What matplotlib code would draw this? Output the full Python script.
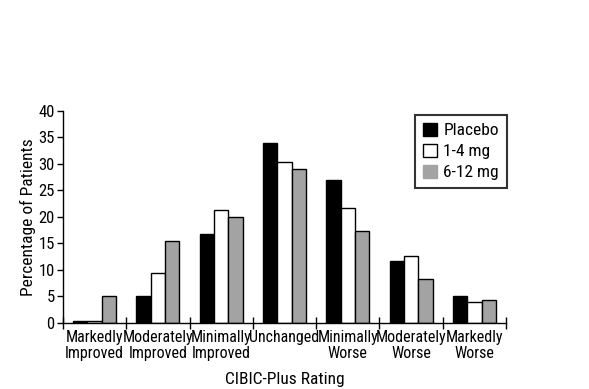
import numpy as np
import matplotlib
matplotlib.use('Agg')
import matplotlib.pyplot as plt
from matplotlib.patches import Patch
from matplotlib import font_manager

# pick a narrow sans if one is around
narrow = None
for fam in ['Liberation Sans Narrow', 'DejaVu Sans Condensed', 'Roboto Condensed', 'Arial Narrow']:
    try:
        font_manager.findfont(fam, fallback_to_default=False)
        narrow = fam
        break
    except Exception:
        pass
if narrow is None:
    cond = [f.name for f in font_manager.fontManager.ttflist
            if f.stretch in ('condensed', 'semi-condensed', 'extra-condensed', 550, 600, 650)]
    narrow = cond[0] if cond else 'Liberation Sans'
plt.rcParams['font.family'] = [narrow, 'DejaVu Sans']
sc = 1.0 if narrow != 'Liberation Sans' else 0.85

categories = ['Markedly\nImproved', 'Moderately\nImproved', 'Minimally\nImproved',
              'Unchanged', 'Minimally\nWorse', 'Moderately\nWorse', 'Markedly\nWorse']
placebo = [0.4, 5.0, 16.7, 34.0, 26.9, 11.6, 5.0]
low_dose = [0.4, 9.5, 21.2, 30.3, 21.7, 12.6, 4.0]
high_dose = [5.1, 15.4, 20.0, 29.0, 17.4, 8.3, 4.4]
series_names = ['Placebo', '1-4 mg', '6-12 mg']

fig = plt.figure(figsize=(5.89, 3.89), dpi=100)
ax = fig.add_axes([63/589, 1-323/389, (506-63)/589, (323-110.7)/389])

x = np.arange(len(categories))
w = 0.226
colors = ['black', 'white', '#a3a3a3']
for i, (vals, c) in enumerate(zip([placebo, low_dose, high_dose], colors)):
    ax.bar(x + (i-1)*w, vals, w, color=c, edgecolor='black', linewidth=1.0)

ax.set_xlim(-0.5, len(categories)-0.5)
ax.set_ylim(0, 40)
ax.set_yticks(range(0, 41, 5))
ax.tick_params(axis='y', direction='out', length=4, width=1, labelsize=12*sc, pad=2)
ax.set_xticks(np.arange(len(categories)+1)-0.5)
ax.set_xticklabels([])
ax.tick_params(axis='x', direction='inout', length=8, width=1)
ax.set_xticks(x, minor=True)
ax.set_xticklabels(categories, minor=True, fontsize=11.5*sc, linespacing=1.05)
ax.tick_params(axis='x', which='minor', length=0, pad=5)
for s in ['top', 'right']:
    ax.spines[s].set_visible(False)
for s in ['left', 'bottom']:
    ax.spines[s].set_linewidth(1)

ax.set_ylabel('Percentage of Patients', fontsize=12.5*sc, labelpad=2)
ax.set_xlabel('CIBIC-Plus Rating', fontsize=12.5*sc, labelpad=8)

handles = [Patch(facecolor=c, edgecolor='black' if c != '#a3a3a3' else '#a3a3a3', linewidth=1) for c in colors]
leg = ax.legend(handles, series_names, loc='upper right', bbox_to_anchor=(1.002, 0.98),
                borderaxespad=0, fontsize=12.5*sc, frameon=True, fancybox=False,
                handlelength=0.8, handleheight=0.8, handletextpad=0.4, borderpad=0.45,
                labelspacing=0.3, edgecolor='black')
leg.get_frame().set_linewidth(1.5)

fig.savefig('out.png', dpi=100)
